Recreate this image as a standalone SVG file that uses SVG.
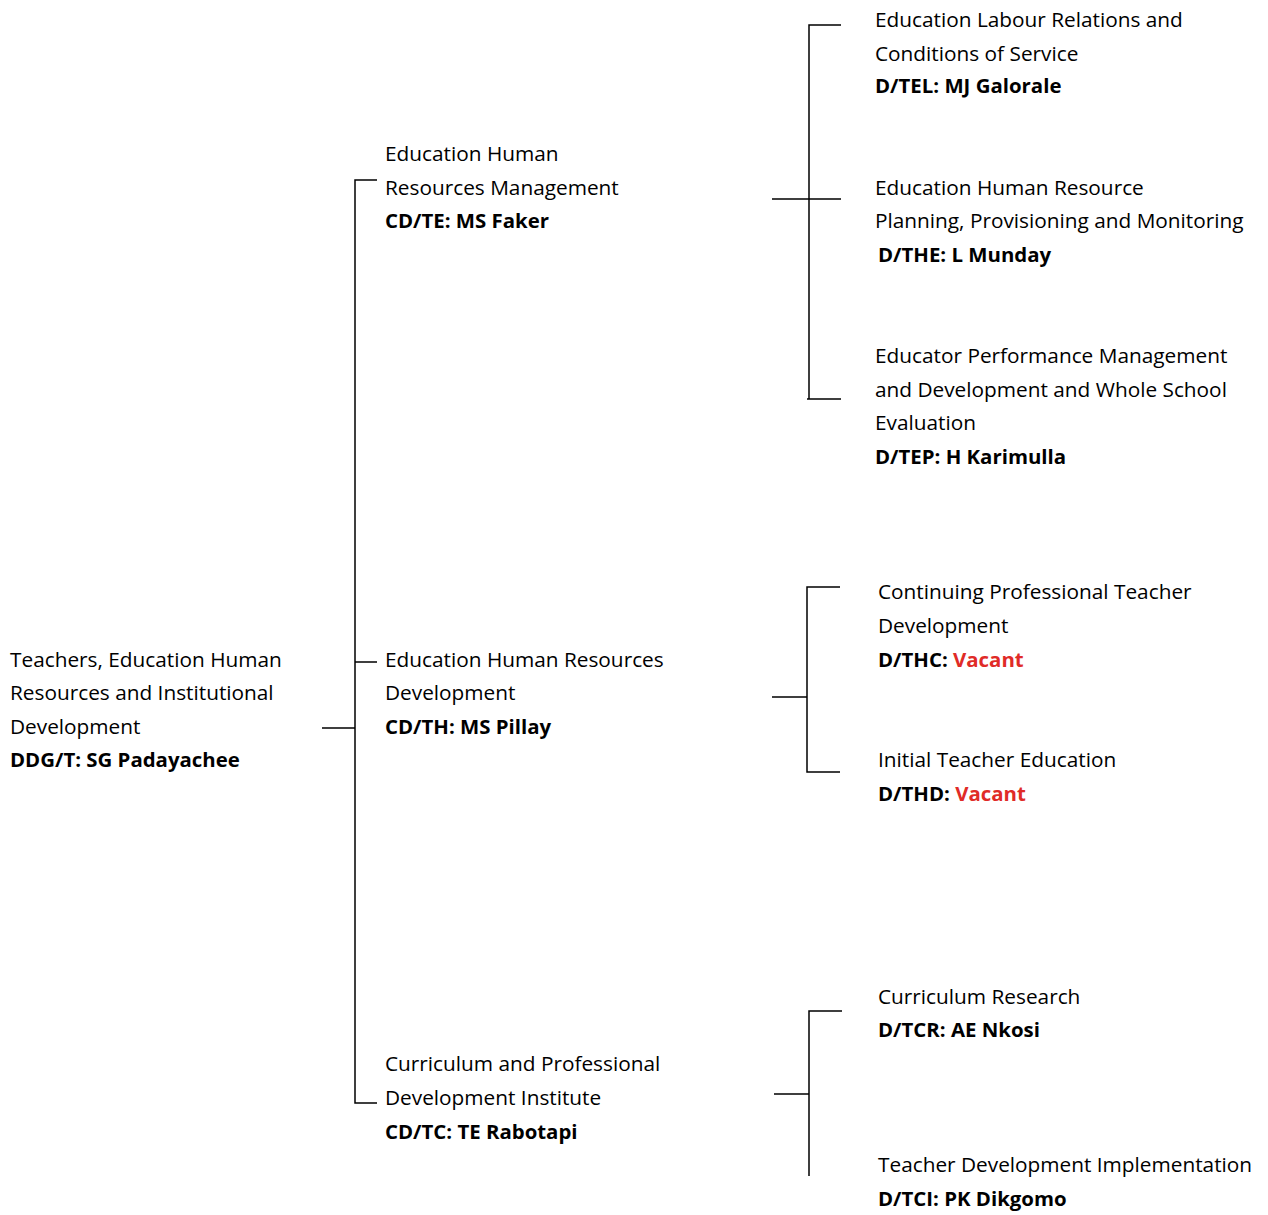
<svg xmlns="http://www.w3.org/2000/svg" width="1268" height="1215" viewBox="0 0 1268 1215">
<style>
text{font-family:"Open Sans","Liberation Sans",sans-serif;font-size:20.8px;fill:#000}
.b{font-weight:bold;font-size:20.4px}
.v{fill:#e02b27}
#connectors path{fill:none;stroke:#000;stroke-width:1.5}
</style>
<rect width="1268" height="1215" fill="#fff"/>
<g id="connectors">
<path d="M322 728H355M377 180H355V1103H377M355 662H377"/>
<path d="M841 25H809V399H807M809 399H841M772 199H841"/>
<path d="M840 587H807V772H840M772 697H807"/>
<path d="M842 1011H809V1176M774 1094H809"/>
</g>
<g id="root"><text x="10" y="667">Teachers, Education Human</text><text x="10" y="700">Resources and Institutional</text><text x="10" y="734">Development</text><text class="b" x="10" y="767">DDG/T: SG Padayachee</text></g>
<g id="te"><text x="385" y="161">Education Human</text><text x="385" y="195">Resources Management</text><text class="b" x="385" y="228">CD/TE: MS Faker</text></g>
<g id="th"><text x="385" y="667">Education Human Resources</text><text x="385" y="700">Development</text><text class="b" x="385" y="734">CD/TH: MS Pillay</text></g>
<g id="tc"><text x="385" y="1071">Curriculum and Professional</text><text x="385" y="1105">Development Institute</text><text class="b" x="385" y="1139">CD/TC: TE Rabotapi</text></g>
<g id="tel"><text x="875" y="27">Education Labour Relations and</text><text x="875" y="61">Conditions of Service</text><text class="b" x="875" y="93">D/TEL: MJ Galorale</text></g>
<g id="the"><text x="875" y="195">Education Human Resource</text><text x="875" y="228">Planning, Provisioning and Monitoring</text><text class="b" x="878" y="262">D/THE: L Munday</text></g>
<g id="tep"><text x="875" y="363">Educator Performance Management</text><text x="875" y="397">and Development and Whole School</text><text x="875" y="430">Evaluation</text><text class="b" x="875" y="464">D/TEP: H Karimulla</text></g>
<g id="thc"><text x="878" y="599">Continuing Professional Teacher</text><text x="878" y="633">Development</text><text class="b" x="878" y="667">D/THC: <tspan class="v">Vacant</tspan></text></g>
<g id="thd"><text x="878" y="767">Initial Teacher Education</text><text class="b" x="878" y="801">D/THD: <tspan class="v">Vacant</tspan></text></g>
<g id="tcr"><text x="878" y="1004">Curriculum Research</text><text class="b" x="878" y="1037">D/TCR: AE Nkosi</text></g>
<g id="tci"><text x="878" y="1172">Teacher Development Implementation</text><text class="b" x="878" y="1206">D/TCI: PK Dikgomo</text></g>
</svg>
